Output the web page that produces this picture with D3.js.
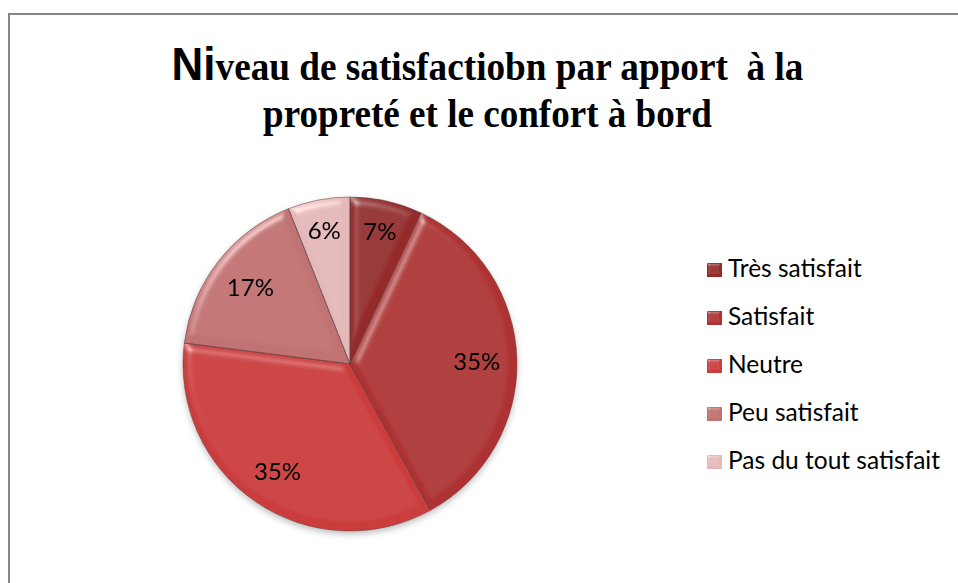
<!DOCTYPE html>
<html>
<head>
<meta charset="utf-8">
<script src="https://cdn.jsdelivr.net/npm/d3@7"></script>
<style>
  body { margin: 0; background: #fff; }
  svg { display: block; }
</style>
</head>
<body>
<div id="chart"></div>
<script>
const categories = ['Très satisfait', 'Satisfait', 'Neutre', 'Peu satisfait', 'Pas du tout satisfait'];
const values = [7, 35, 35, 17, 6];
const colors = ['#962b2b', '#ae3333', '#cb3d3d', '#c17373', '#e3b8b8'];
const titleLine1 = ['Ni', 'veau de satisfactiobn par apport  à la'];
const titleLine2 = 'propreté et le confort à bord';

const W = 958, H = 583;
const cx = 350, cy = 364, R = 167;

const svg = d3.select('#chart').append('svg')
  .attr('width', W)
  .attr('height', H);

const defs = svg.append('defs');

// soft bevel, like the office "soft round" effect
function bevel(id, blur, scale, k3) {
  const f = defs.append('filter').attr('id', id)
    .attr('x', '-10%').attr('y', '-10%').attr('width', '120%').attr('height', '120%');
  f.append('feGaussianBlur').attr('in', 'SourceAlpha').attr('stdDeviation', blur).attr('result', 'blur');
  const spec = f.append('feSpecularLighting')
    .attr('in', 'blur').attr('surfaceScale', scale)
    .attr('specularConstant', 0.9).attr('specularExponent', 25)
    .attr('lighting-color', '#ffffff').attr('result', 'spec');
  spec.append('feDistantLight').attr('azimuth', 235).attr('elevation', 35);
  f.append('feComposite').attr('in', 'spec').attr('in2', 'SourceAlpha').attr('operator', 'in').attr('result', 'specOut');
  f.append('feComposite').attr('in', 'SourceGraphic').attr('in2', 'specOut')
    .attr('operator', 'arithmetic').attr('k1', 0).attr('k2', 1).attr('k3', k3).attr('k4', 0);
}
bevel('bevel', 4, 5, 0.4);
bevel('bevelSmall', 1.2, 2, 0.5);

defs.append('filter').attr('id', 'shadow')
  .attr('x', '-10%').attr('y', '-10%').attr('width', '120%').attr('height', '125%')
  .append('feDropShadow')
  .attr('dx', 0).attr('dy', 3).attr('stdDeviation', 3)
  .attr('flood-color', '#000').attr('flood-opacity', 0.25);

// chart frame
svg.append('rect')
  .attr('x', 9).attr('y', 14)
  .attr('width', 980).attr('height', 620)
  .attr('fill', 'none')
  .attr('stroke', '#858585')
  .attr('stroke-width', 2);

// title
function fitLine(g, target) {
  const w = g.select('text').node().getComputedTextLength();
  const s = target / w;
  g.select('text').attr('transform', `scale(${s},1)`);
}

const t1 = svg.append('g').attr('transform', 'translate(487.5, 80)');
const t1text = t1.append('text')
  .attr('text-anchor', 'middle')
  .style('white-space', 'pre')
  .attr('font-weight', 'bold')
  .attr('font-size', 39)
  .attr('fill', '#000');
t1text.append('tspan')
  .style('font-family', '"Liberation Sans", Arial, sans-serif')
  .attr('font-size', 46)
  .text(titleLine1[0]);
t1text.append('tspan')
  .style('font-family', '"Liberation Serif", "Times New Roman", serif')
  .text(titleLine1[1]);
fitLine(t1, 632);

const t2 = svg.append('g').attr('transform', 'translate(487.5, 127)');
t2.append('text')
  .attr('text-anchor', 'middle')
  .style('font-family', '"Liberation Serif", "Times New Roman", serif')
  .attr('font-weight', 'bold')
  .attr('font-size', 39)
  .attr('fill', '#000')
  .text(titleLine2);
fitLine(t2, 449);

// pie
const pie = d3.pie().sort(null).value(d => d.value);
const arc = d3.arc().innerRadius(0).outerRadius(R);
const data = pie(values.map((v, i) => ({ name: categories[i], value: v, color: colors[i] })));

const pieG = svg.append('g')
  .attr('transform', `translate(${cx},${cy})`)
  .attr('filter', 'url(#shadow)');

pieG.selectAll('path.slice')
  .data(data)
  .enter()
  .append('path')
  .attr('class', 'slice')
  .attr('d', arc)
  .attr('fill', d => d.data.color)
  .attr('filter', 'url(#bevel)');

pieG.selectAll('path.edge')
  .data(data)
  .enter()
  .append('path')
  .attr('class', 'edge')
  .attr('d', arc)
  .attr('fill', 'none')
  .attr('stroke', '#5a3a3a')
  .attr('stroke-opacity', 0.5)
  .attr('stroke-width', 1);

// labels: inside end, box pushed out until it touches R - pad
const pad = 16;
const labels = svg.append('g').attr('transform', `translate(${cx},${cy})`);
labels.selectAll('text')
  .data(data)
  .enter()
  .append('text')
  .attr('text-anchor', 'middle')
  .attr('dominant-baseline', 'central')
  .attr('font-family', 'Lato, Noto Sans, sans-serif')
  .attr('font-size', 24)
  .attr('fill', '#000')
  .text(d => d.data.value + '%')
  .each(function (d) {
    const bb = this.getBBox();
    const a = (d.startAngle + d.endAngle) / 2;
    const ux = Math.sin(a), uy = -Math.cos(a);
    const hx = bb.width / 2 * Math.sign(ux || 1), hy = 10 * Math.sign(uy || 1);
    // solve |d*u + h| = R - pad
    const b = 2 * (ux * hx + uy * hy);
    const c = hx * hx + hy * hy - (R - pad) * (R - pad);
    const dist = (-b + Math.sqrt(b * b - 4 * c)) / 2;
    d3.select(this).attr('x', dist * ux).attr('y', dist * uy);
  });

// legend
const legend = svg.append('g').attr('transform', 'translate(707, 277)');
const rows = legend.selectAll('g')
  .data(categories)
  .enter()
  .append('g')
  .attr('transform', (d, i) => `translate(0, ${i * 48})`);

rows.append('rect')
  .attr('x', 0).attr('y', -14)
  .attr('width', 15).attr('height', 14)
  .attr('fill', (d, i) => colors[i])
  .attr('filter', 'url(#bevelSmall)');

rows.append('text')
  .attr('x', 21)
  .attr('y', 0)
  .attr('font-family', 'Lato, Noto Sans, sans-serif')
  .attr('font-size', 24.5)
  .attr('fill', '#000')
  .text(d => d);
</script>
</body>
</html>
